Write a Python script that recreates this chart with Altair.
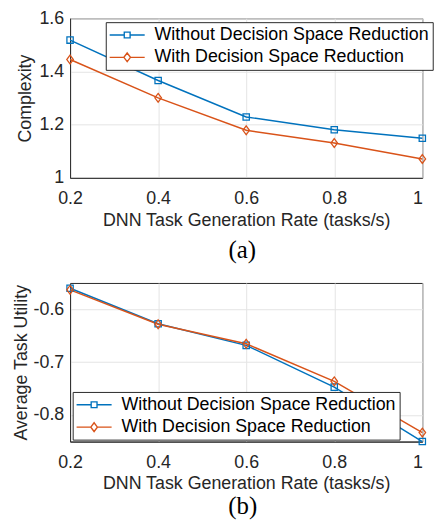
import altair as alt
import pandas as pd

rates = [0.2, 0.4, 0.6, 0.8, 1.0]
series = ["Without Decision Space Reduction", "With Decision Space Reduction"]
complexity_without = [1.518, 1.366, 1.229, 1.181, 1.149]
complexity_with = [1.445, 1.301, 1.179, 1.131, 1.071]
utility_without = [-0.560, -0.627, -0.668, -0.747, -0.850]
utility_with = [-0.563, -0.628, -0.665, -0.736, -0.833]
colors = ["#0072BD", "#D95319"]

FONT = "Liberation Sans"
FS = 18.3
INK = "#262626"

DM = "M0,-1L0.75,0L0,1L-0.75,0Z"
# legend symbols (size 100 -> 5 px per unit): line segment with marker
LEG_SQ = "M-3.6,0H-0.6M0.6,0H3.6M-0.6,-0.6H0.6V0.6H-0.6Z"
LEG_DM = "M-3.6,0H-0.68M0.68,0H3.6M0,-0.9L0.68,0L0,0.9L-0.68,0Z"


def frame(a, b):
    rows = []
    for s, vals in zip(series, [a, b]):
        for r, v in zip(rates, vals):
            rows.append({"rate": r, "value": v, "series": s})
    return pd.DataFrame(rows)


def panel(df, ytitle, ydomain, yvalues, ylabel, w, h, lx, ly, caption, ytp, cap_off, cap_dx):
    x = alt.X("rate:Q", scale=alt.Scale(domain=[0.2, 1.0], nice=False, zero=False),
              axis=alt.Axis(values=rates, format="~g", title="DNN Task Generation Rate (tasks/s)",
                            labelFlush=False,
                            labelAlign={"condition": {"test": "datum.value >= 1", "value": "right"},
                                        "value": "center"}))
    y = alt.Y("value:Q", scale=alt.Scale(domain=ydomain, nice=False, zero=False),
              axis=alt.Axis(values=yvalues, labelExpr=ylabel, title=ytitle, titlePadding=ytp))
    cscale = alt.Scale(domain=series, range=colors)
    leg = alt.Legend(title=None, orient="none", legendX=lx, legendY=ly,
                     symbolSize=100, symbolStrokeWidth=1.4, symbolOpacity=1,
                     symbolOffset=8.85, labelOffset=19,
                     labelFont=FONT, labelFontSize=FS, labelColor="black",
                     padding=4, rowPadding=4,
                     strokeColor=INK, fillColor="white", labelLimit=400)
    base = alt.Chart(df)
    col = alt.Color("series:N", scale=cscale)
    lg = base.mark_point(opacity=0, filled=False, size=1).encode(
        x=x, y=y,
        color=alt.Color("series:N", scale=cscale, legend=leg),
        shape=alt.Shape("series:N", scale=alt.Scale(domain=series, range=[LEG_SQ, LEG_DM]), legend=leg)
    ).transform_filter("false")
    line = base.mark_line(strokeWidth=1.5).encode(x=x, y=y, color=col)
    p1 = base.mark_point(shape="square", size=42, filled=False, strokeWidth=1.3, opacity=1).encode(
        x=x, y=y, color=col
    ).transform_filter(alt.datum.series == series[0])
    p2 = base.mark_point(shape=DM, size=81, filled=False, strokeWidth=1.3, opacity=1).encode(
        x=x, y=y, color=col
    ).transform_filter(alt.datum.series == series[1])
    return alt.layer(lg, line, p1, p2).properties(
        width=w, height=h,
        title=alt.TitleParams(caption, orient="bottom", font="Liberation Serif",
                              fontSize=25.5, fontWeight="normal", color="black",
                              offset=cap_off, dx=cap_dx))


top = panel(frame(complexity_without, complexity_with), "Complexity", [1.0, 1.6],
            [1.0, 1.2, 1.4, 1.6], "format(datum.value, '~g')", 362, 164, 36.7, 4, "(a)", 4.7,
            10.1, -4)
bottom = panel(frame(utility_without, utility_with), "Average Task Utility", [-0.85, -0.55],
               [-0.8, -0.7, -0.6], "(datum.value < 0 ? '-' : '') + format(abs(datum.value), '.1f')",
               362, 163, 2.7, 112, "(b)", 2.7, 2.8, -3.5)

chart = alt.vconcat(top, bottom, spacing=19).resolve_scale(
    color="independent", shape="independent"
).resolve_legend(color="independent", shape="independent").properties(
    padding={"left": 11, "top": 0.5, "right": 0, "bottom": 0}
).configure_view(stroke=INK, strokeWidth=1).configure_axis(
    labelFont=FONT, labelFontSize=FS, labelColor=INK,
    titleFont=FONT, titleFontSize=FS, titleFontWeight="normal", titleColor=INK,
    gridColor="#e3e3e3", gridWidth=1, domainColor=INK, ticks=False, labelPadding=6.5,
).configure_axisX(titlePadding=4.8, labelPadding=12.5)

chart.save("out.html", embed_options={"renderer": "svg", "actions": False})
